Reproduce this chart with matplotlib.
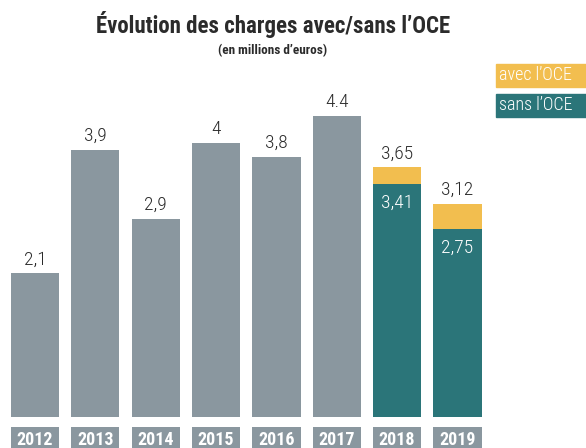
import matplotlib
matplotlib.use("Agg")
import matplotlib.pyplot as plt
from matplotlib import font_manager as fm
from matplotlib.patches import Rectangle

years = ["2012", "2013", "2014", "2015", "2016", "2017", "2018", "2019"]
sans_oce = [2.1, 3.9, 2.9, 4.0, 3.8, 4.4, 3.41, 2.75]
avec_oce = [None, None, None, None, None, None, 3.65, 3.12]
labels_top = ["2,1", "3,9", "2,9", "4", "3,8", "4.4", "3,65", "3,12"]
labels_in = [None, None, None, None, None, None, "3,41", "2,75"]

GRAY = "#8a979f"
TEAL = "#2b7579"
YELLOW = "#f2be4f"
DARK = "#2b2b2b"

# pick a narrow font if one is there
names = {f.name for f in fm.fontManager.ttflist}
font = "DejaVu Sans"
for cand in ["Roboto Condensed", "Liberation Sans Narrow", "Open Sans Condensed"]:
    if cand in names:
        font = cand
        break
stretch = "condensed"

W, H = 586, 448
fig = plt.figure(figsize=(W / 100, H / 100), dpi=100)
ppu = 68.4  # pixels per unit
bottom_px = 417
ax = fig.add_axes([0, (H - bottom_px) / H, 1, bottom_px / H])
x0 = 35 / 60.35
ax.set_xlim(-x0, (W - 35) / 60.35)
ax.set_ylim(0, bottom_px / ppu)
ax.axis("off")

x = list(range(len(years)))
for i in x:
    if avec_oce[i] is None:
        ax.bar(i, sans_oce[i], width=0.8, color=GRAY)
        top = sans_oce[i]
    else:
        ax.bar(i, avec_oce[i], width=0.8, color=YELLOW)
        ax.bar(i, sans_oce[i], width=0.8, color=TEAL)
        top = avec_oce[i]
        ax.text(i, sans_oce[i] - 24 / ppu, labels_in[i], ha="center", va="baseline",
                color="white", fontsize=14, family=font, stretch=stretch, fontweight="light")
    ax.text(i, top + 9 / ppu, labels_top[i], ha="center", va="baseline",
            color=DARK, fontsize=14, family=font, stretch=stretch, fontweight="light")
    # year boxes under the axis
    ax.bar(i, -40 / ppu, bottom=-10 / ppu, width=0.8, color=GRAY, clip_on=False)
    ax.text(i, -28 / ppu, years[i], ha="center", va="baseline", color="white",
            fontsize=13, fontweight="bold", family=font, stretch=stretch, clip_on=False)

fig.text(273 / W, 1 - 33 / H, "Évolution des charges avec/sans l\u2019OCE", ha="center",
         va="baseline", fontsize=16.5, fontweight="bold", color=DARK, family=font, stretch=stretch)
fig.text(273 / W, 1 - 54 / H, "(en millions d\u2019euros)", ha="center", va="baseline",
         fontsize=9.5, fontweight="bold", color=DARK, family=font, stretch=stretch)

for (y1, y2, col, txt) in [(64, 87, YELLOW, "avec l\u2019OCE"), (94, 117, TEAL, "sans l\u2019OCE")]:
    fig.patches.append(Rectangle((496 / W, 1 - y2 / H), 90 / W, (y2 - y1) / H,
                                 transform=fig.transFigure, color=col))
    fig.text(499 / W, 1 - (y1 + y2) / 2 / H, txt, ha="left", va="center", color="white",
             fontsize=13, family=font, stretch=stretch, fontweight="light")

fig.savefig("out.png", dpi=100)
